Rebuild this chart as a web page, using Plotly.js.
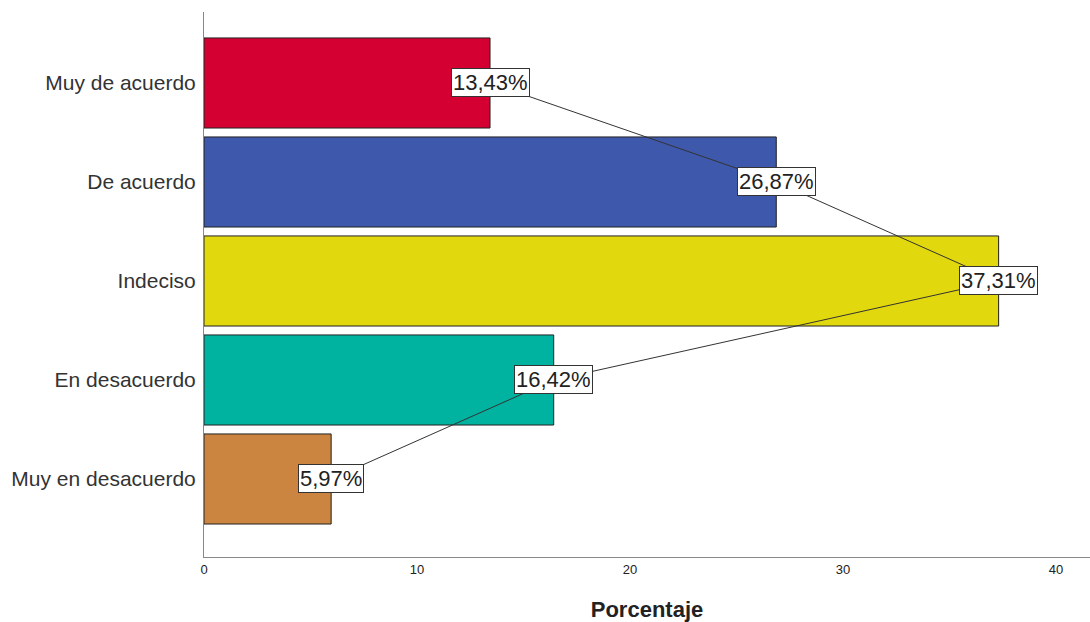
<!DOCTYPE html>
<html><head><meta charset="utf-8">
<script src="https://cdn.plot.ly/plotly-3.0.1.min.js"></script>
<style>html,body{margin:0;padding:0;background:#fff}#c{width:1090px;height:622px}</style>
</head><body><div id="c"></div>
<script>
const categories = ["Muy de acuerdo","De acuerdo","Indeciso","En desacuerdo","Muy en desacuerdo"];
const values = [13.43, 26.87, 37.31, 16.42, 5.97];
const labels = ["13,43%","26,87%","37,31%","16,42%","5,97%"];
const colors = ["#D50032","#3E58AC","#E1D80E","#00B3A0","#CB8540"];
const xTicks = [0,10,20,30,40];

const bars = {
  type:'bar', orientation:'h', x: values, y: categories,
  marker:{color: colors, line:{color:'#222', width:1}},
  width: 0.91, hoverinfo:'none'
};
const line = {
  type:'scatter', mode:'lines', x: values, y: categories,
  line:{color:'#333', width:1}, hoverinfo:'none'
};
const annotations = values.map((v,i)=>({
  x: v, y: categories[i], xref:'x', yref:'y', text: labels[i], showarrow:false,
  bgcolor:'#fff', bordercolor:'#333', borderwidth:1, borderpad:1,
  font:{family:'Liberation Sans, Arial, sans-serif', size:22, color:'#222'}
}));
Plotly.newPlot('c',[bars,line],{
  width:1090, height:622, showlegend:false,
  margin:{l:204, r:0, t:12, b:65},
  paper_bgcolor:'#fff', plot_bgcolor:'#fff',
  xaxis:{range:[0,41.6], tickvals:xTicks, ticktext:xTicks.map(String), showgrid:false, zeroline:false,
    showline:true, linecolor:'#888', linewidth:1, ticks:'', ticklen:0,
    tickfont:{family:'Liberation Sans Narrow, Arial Narrow, Liberation Sans, sans-serif', size:13, color:'#222'},
    title:{text:'<b>Porcentaje</b>', standoff:26, font:{family:'Liberation Sans Narrow, Liberation Sans, Arial, sans-serif', size:22, color:'#222'}}},
  yaxis:{type:'category', categoryorder:'array', categoryarray:categories, range:[4.788,-0.717], autorange:false,
    showgrid:false, zeroline:false, showline:true, linecolor:'#888', linewidth:1, ticks:'', ticklabelstandoff:3,
    tickfont:{family:'Liberation Sans, Arial, sans-serif', size:21, color:'#333'}},
  annotations: annotations, bargap:0.09
},{displayModeBar:false, staticPlot:true});
</script></body></html>
